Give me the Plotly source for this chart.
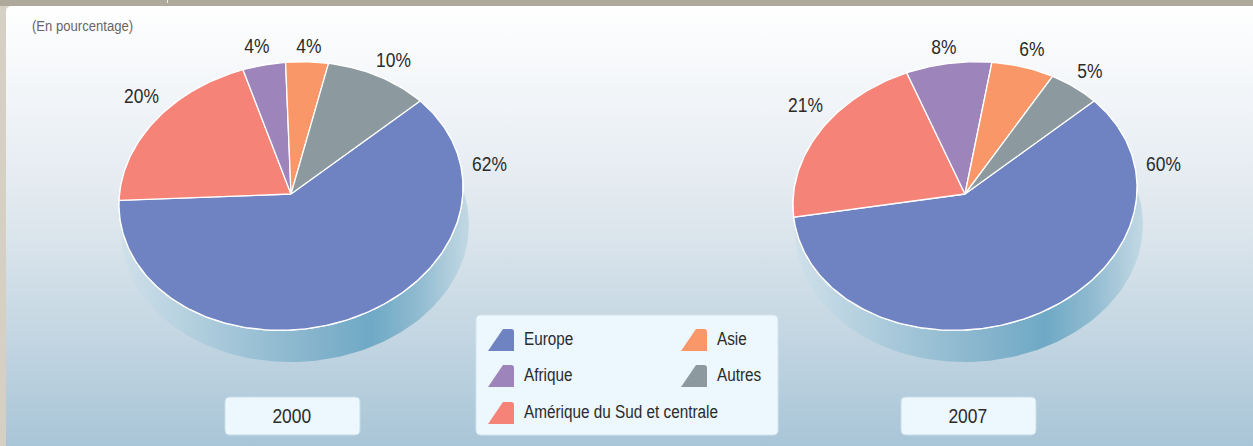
import numpy as np
import plotly.graph_objects as go

# --- data -----------------------------------------------------------------
categories = ["Europe", "Amérique du Sud et centrale", "Afrique", "Asie", "Autres"]
values_2000 = [62, 20, 4, 4, 10]
values_2007 = [60, 21, 8, 6, 5]
years = ["2000", "2007"]
unit_note = "(En pourcentage)"

# --- styling and layout ---------------------------------------------------
colors = {"Europe": "#6f82c2", "Amérique du Sud et centrale": "#f68378",
          "Afrique": "#9d85bc", "Asie": "#f99768", "Autres": "#8c999e"}
W, H = 1253, 446
FONT = "Liberation Sans, Arial, sans-serif"
RX, RY = 172, 134
TILT = 0.05          # the disc is slightly tilted: upper right and lower left bulge out
START_DEG = 48.6
pies = [dict(cx=291, cy=196, apex=194, vals=values_2000, year=years[0],
             box=(225, 397, 360, 435),
             label_xy=[(489.5, 163), (141, 95), (257, 45), (308.5, 45), (393.5, 59)]),
        dict(cx=965, cy=196, apex=194, vals=values_2007, year=years[1],
             box=(901, 397, 1036, 435),
             label_xy=[(1163, 163), (805, 104), (944, 46), (1032, 48), (1090, 70)])]
legend_layout = [("Europe", 488, 340), ("Afrique", 488, 376),
                 ("Amérique du Sud et centrale", 488, 413),
                 ("Asie", 681, 340), ("Autres", 681, 376)]


def rrect(x0, y0, x1, y1, r=5):
    return (f"M{x0+r},{y0} L{x1-r},{y0} Q{x1},{y0} {x1},{y0+r} L{x1},{y1-r} Q{x1},{y1} {x1-r},{y1} "
            f"L{x0+r},{y1} Q{x0},{y1} {x0},{y1-r} L{x0},{y0+r} Q{x0},{y0} {x0+r},{y0} Z")


def disc(cx, cy, th, rx=RX, tilt=TILT):
    """Point on the tilted elliptical disc; th runs clockwise from the top."""
    return cx + rx * np.sin(th), cy - RY * np.cos(th) - tilt * rx * np.sin(th)


fig = go.Figure()


def add_text(x, y, text, size, color="#2b2b2b", anchor="center"):
    fig.add_annotation(x=x, y=y, xref="x", yref="y", text=text, showarrow=False,
                       xanchor=anchor, align=anchor, yanchor="middle", borderpad=0,
                       font=dict(family=FONT, size=size, color=color))


# panel background with vertical gradient (rounded top-left corner)
t = np.linspace(np.pi, 1.5 * np.pi, 12)
bx = list(6 + 5 + 5 * np.cos(t)) + [W, W, 6]
by = list(6 + 5 + 5 * np.sin(t)) + [6, H, H]
fig.add_trace(go.Scatter(
    x=bx, y=by, mode="lines", line=dict(width=0), fill="toself", hoverinfo="skip", showlegend=False,
    fillgradient=dict(type="vertical", start=6, stop=H,
                      colorscale=[[0, "#ffffff"], [0.25, "#eff3f7"], [0.5, "#dde6ed"],
                                  [0.75, "#c3d6e2"], [1, "#a8c5d7"]])))

for p in pies:
    cx, cy = p["cx"], p["cy"]
    # side wall of the disc
    t = np.linspace(0, 2 * np.pi, 240)
    wx, wy = disc(cx + 4, cy + 32, t, rx=RX + 2, tilt=0.02)
    fig.add_trace(go.Scatter(
        x=wx, y=wy, mode="lines", line=dict(width=0), fill="toself",
        hoverinfo="skip", showlegend=False,
        fillgradient=dict(type="horizontal", start=cx - 170, stop=cx + 178,
                          colorscale=[[0, "#cfe0e9"], [0.3, "#a5c7d9"], [0.55, "#86b4cc"],
                                      [0.72, "#6fa9c5"], [0.85, "#8fbad0"], [1, "#c3d9e4"]])))
    # white rim under the slices
    rx_, ry_ = disc(cx, cy, t)
    fig.add_trace(go.Scatter(
        x=rx_, y=ry_, mode="lines", line=dict(color="#ffffff", width=1.5),
        fill="toself", fillcolor="#ffffff", hoverinfo="skip", showlegend=False))
    # slices, angles run clockwise from the top
    total = sum(p["vals"])
    a = START_DEG
    for cat, v in zip(categories, p["vals"]):
        b = a + v / total * 360
        th = np.radians(np.linspace(a, b, max(3, int(b - a) + 2)))
        ax_, ay_ = disc(cx, cy, th)
        xs = [cx] + list(ax_) + [cx]
        ys = [p["apex"]] + list(ay_) + [p["apex"]]
        fig.add_trace(go.Scatter(
            x=xs, y=ys, mode="lines", line=dict(color="#ffffff", width=1.3), fill="toself",
            fillcolor=colors[cat], name=cat, showlegend=False, hoveron="fills",
            text=f"{cat} {p['year']}: {v}%", hoverinfo="text"))
        a = b
    for v, (lx, ly) in zip(p["vals"], p["label_xy"]):
        add_text(lx, ly, f"{v}%", 20.5)
    fig.add_shape(type="path", path=rrect(*p["box"]), fillcolor="#ecf7fe",
                  line=dict(color="#c9dde8", width=1))
    add_text((p["box"][0] + p["box"][2]) / 2 - 0.5, (p["box"][1] + p["box"][3]) / 2 - 1, p["year"], 20.5)

# legend panel
fig.add_shape(type="path", path=rrect(476, 315, 778, 435), fillcolor="#ecf7fe",
              line=dict(color="#d3e4ee", width=1))
for cat, lx, ly in legend_layout:
    x0, y0, x1, y1 = lx, ly - 11, lx + 26, ly + 11
    fig.add_shape(type="path",
                  path=f"M{x0},{y1} L{x0+15},{y0} L{x1-3},{y0} Q{x1},{y0} {x1},{y0+3} L{x1},{y1} Z",
                  fillcolor=colors[cat], line=dict(width=0))
    add_text(lx + 34.5, ly - 1, cat, 18, anchor="left")

add_text(31, 25, unit_note, 15.4, color="#666666", anchor="left")

# top and left frame bands
fig.add_shape(type="rect", x0=0, y0=0, x1=W, y1=6, fillcolor="#aea99a", line=dict(width=0))
fig.add_shape(type="rect", x0=0, y0=6, x1=6, y1=H, fillcolor="#d6cfc3", line=dict(width=0))
fig.add_shape(type="rect", x0=167, y0=0, x1=168, y1=3, fillcolor="#f2f0ea", line=dict(width=0))

fig.update_xaxes(range=[0, W], visible=False, fixedrange=True)
fig.update_yaxes(range=[H, 0], visible=False, fixedrange=True)
fig.update_layout(width=W, height=H, margin=dict(l=0, r=0, t=0, b=0),
                  paper_bgcolor="#d6cfc3", plot_bgcolor="#d6cfc3", showlegend=False)
narrow_js = """
document.body.style.margin='0';document.body.style.overflow='hidden';
document.querySelectorAll('.annotation-text').forEach(function(t){
  var n=t.getComputedTextLength();
  t.setAttribute('textLength',n*0.85);
  t.setAttribute('lengthAdjust','spacingAndGlyphs');
});
"""
fig.write_html("out.html", config={"displayModeBar": False}, post_script=narrow_js)
